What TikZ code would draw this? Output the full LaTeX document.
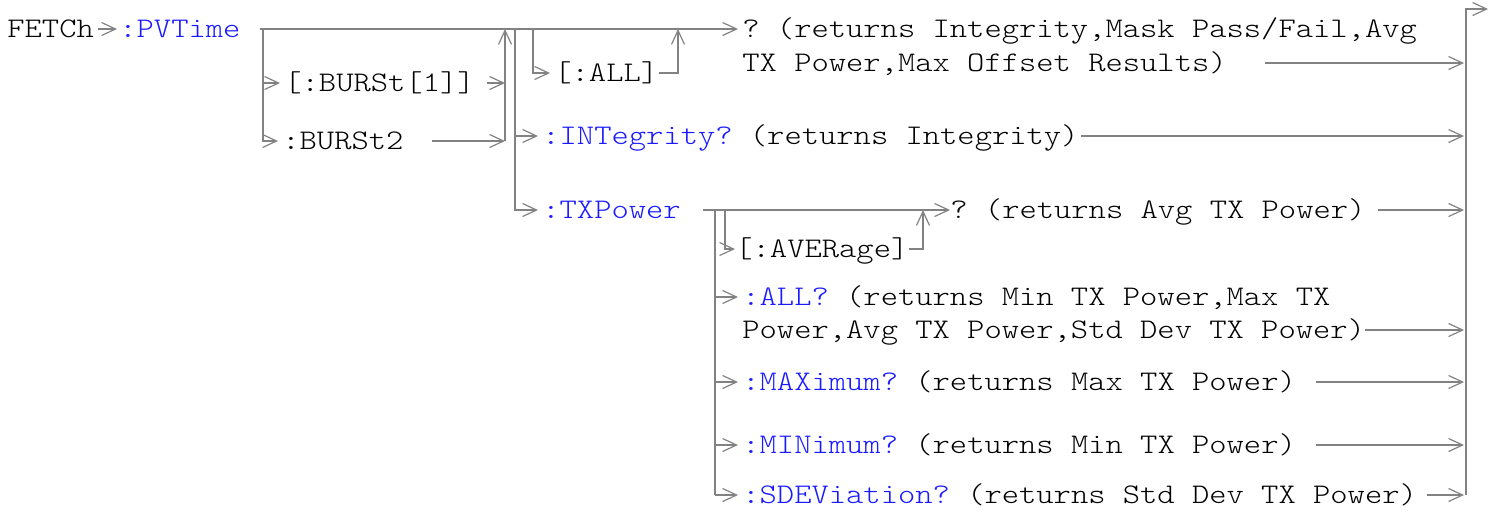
\documentclass[tikz,border=0pt]{standalone}
\usepackage{fontspec}
\newfontfamily\synfont[Extension=.otf,FakeStretch=1.16]{lmmonolt10-regular}
\usetikzlibrary{arrows.meta,positioning,calc}
\definecolor{cmdBlue}{RGB}{26,26,255}
\definecolor{wireGray}{RGB}{130,130,130}

\begin{document}
\begin{tikzpicture}[
  x=0.5pt, y=-0.5pt,
  font=\synfont\fontsize{14.2}{17}\selectfont\frenchspacing,
  kw/.style  ={inner sep=0pt, anchor=base west, text height=11pt, text depth=3pt, text=cmdBlue},
  txt/.style ={inner sep=0pt, anchor=base west, text height=11pt, text depth=3pt, text=black},
  wire/.style={line width=1pt, draw=wireGray},
  flow/.style={wire, -{Straight Barb[length=7pt,width=6.5pt,line width=0.6pt]}},
  into/.style={flow, shorten >=2pt},
]
\useasboundingbox (0,0) rectangle (1494,511);

% ================= RAILS (x positions) =================
\coordinate (vBs) at (263,0);   % split to burst options
\coordinate (vBj) at (505,0);   % join of burst options
\coordinate (vSs) at (515,0);   % split to sub-commands
\coordinate (vAs) at (533,0);   % split to [:ALL]
\coordinate (vAj) at (678,0);   % join of [:ALL]
\coordinate (vTs) at (715,0);   % split of :TXPower
\coordinate (vVs) at (725,0);   % split to [:AVERage]
\coordinate (vVj) at (923,0);   % join of [:AVERage]
\coordinate (vR)  at (1466,0);  % right rail
\coordinate (endR) at (1488,9);

% ================= TOP LEVEL =================
\node[txt] (fetch)  at (7,37)   {FETCh};
\node[kw]  (pvtime) at (119,37) {:PVTime};
\node[txt] (burst1) at (284,91) {[:BURSt[1]]};
\node[txt] (burst2) at (282,149) {:BURSt2};

\draw[flow, shorten <=2pt, shorten >=1pt] (fetch.east) -- (pvtime.west);
\coordinate (mainS) at ($(pvtime.east)+(19,0)$);

\draw[wire] (mainS) -- (vBs |- mainS);
\draw[into] (vBs |- mainS) |- (burst2.west);
\draw[into] (vBs |- burst1.west) -- (burst1.west);
\draw[flow] ([xshift=6pt]burst1.east) -- (vBj |- burst1.west);
\draw[flow] ([xshift=14pt]burst2.east) -- (vBj |- burst2.west);
\draw[flow] (vBj |- burst2.west) -- (vBj |- mainS);

% ================= :PVTime SUB-COMMANDS =================
\node[txt] (allopt) at (554,81)  {[:ALL]};
\node[txt] (allq)   at (742,37)  {? (returns Integrity,Mask Pass/Fail,Avg};
\node[txt] (allq2)  at (742,71)  {TX Power,Max Offset Results)};
\node[kw]  (integ)  at (542,144) {:INTegrity? \textcolor{black}{(returns Integrity)}};
\node[kw]  (txpow)  at (542,218) {:TXPower};

\draw[into] (mainS) -- (allq.west);
\draw[into] (vAs |- mainS) |- (allopt.west);
\draw[flow] (allopt.east) -| (vAj |- mainS);
\draw[into] (vSs |- mainS) |- (txpow.west);
\draw[into] (vSs |- integ.west) -- (integ.west);

% ================= :TXPower SUB-COMMANDS =================
\node[txt] (aver)   at (735,257) {[:AVERage]};
\node[txt] (avgq)   at (950,218) {? (returns Avg TX Power)};
\node[kw]  (alltx)  at (742,305) {:ALL? \textcolor{black}{(returns Min TX Power,Max TX}};
\node[txt] (alltx2) at (742,338) {Power,Avg TX Power,Std Dev TX Power)};
\node[kw]  (maxq)   at (742,390) {:MAXimum? \textcolor{black}{(returns Max TX Power)}};
\node[kw]  (minq)   at (742,453) {:MINimum? \textcolor{black}{(returns Min TX Power)}};
\node[kw]  (sdev)   at (742,503) {:SDEViation? \textcolor{black}{(returns Std Dev TX Power)}};

\coordinate (txS) at ($(txpow.east)+(22,0)$);
\draw[flow] (txS) -- (avgq.west);
\draw[flow] (vVs |- txS) |- (aver.west);
\draw[flow] (aver.east) -| (vVj |- txS);
\draw[wire] (vTs |- txS) -- (vTs |- sdev.west);
\foreach \n in {alltx,maxq,minq,sdev}
  \draw[into] (vTs |- \n.west) -- (\n.west);

% ================= RIGHT RAIL =================
\draw[flow, shorten >=1pt] ([xshift=19pt]allq2.east) -- (vR |- allq2.east);
\draw[flow, shorten >=1pt] ([xshift=1pt]integ.east)  -- (vR |- integ.east);
\draw[flow, shorten >=1pt] ([xshift=6pt]avgq.east)   -- (vR |- avgq.east);
\draw[flow, shorten >=1pt] (alltx2.east)              -- (vR |- alltx2.east);
\draw[flow, shorten >=1pt] ([xshift=10pt]maxq.east)  -- (vR |- maxq.east);
\draw[flow, shorten >=1pt] ([xshift=10pt]minq.east)  -- (vR |- minq.east);
\draw[flow, shorten >=1pt] ([xshift=5pt]sdev.east)   -- (vR |- sdev.east);
\draw[flow] (vR |- sdev.east) |- (endR);

\end{tikzpicture}
\end{document}
